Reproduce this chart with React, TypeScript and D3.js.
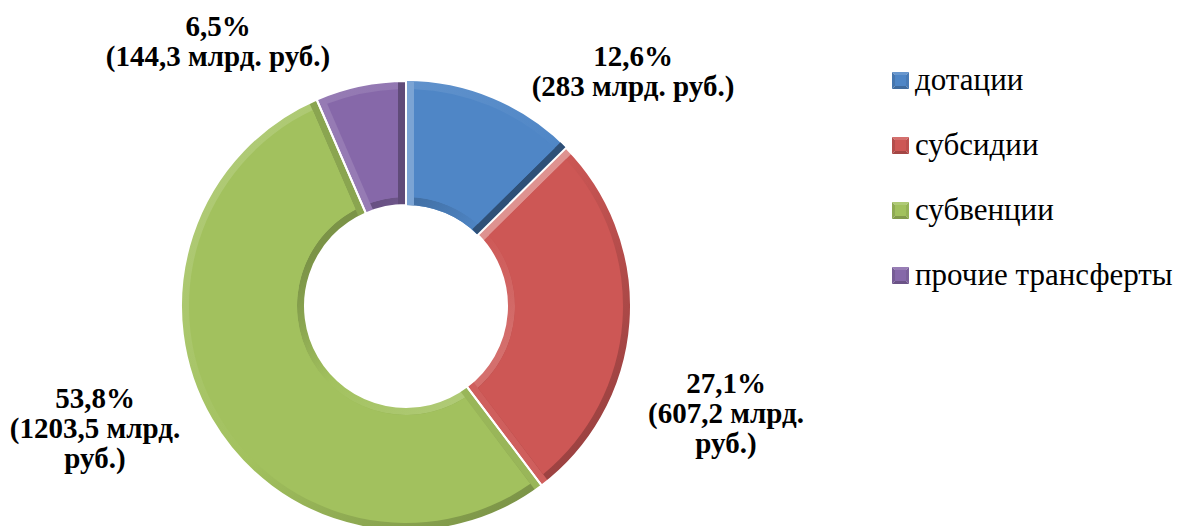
import React from 'react';
import * as d3 from 'd3';

const categories = ['дотации', 'субсидии', 'субвенции', 'прочие трансферты'];
const shares = [12.6, 27.1, 53.8, 6.5];
const amounts = ['283', '607,2', '1203,5', '144,3'];
const colors = ['#4F86C6', '#CD5755', '#A2C15E', '#8668A9'];

// label layout (offset of label centre / first baseline from donut centre)
const labelOffsets: [number, number][] = [
  [227, -240],
  [320, 87],
  [-311, 102],
  [-188, -270],
];
const labelWrap = [false, true, true, false];

const W = 1184;
const H = 526;
const cx = 406;
const cy = 306;
const rOuter = 225;
const rInner = 101;
const bevel = 8;
const lineH = 30;

const light = [-Math.SQRT1_2, -Math.SQRT1_2];

function shade(c: string, k: number) {
  return k >= 0 ? d3.interpolateRgb(c, '#ffffff')(k * 0.35) : d3.interpolateRgb(c, '#000000')(-k * 0.4);
}

const font = 'Liberation Serif, Times New Roman, Tinos, DejaVu Serif, serif';

function App() {
  const pie = d3.pie<number>().sort(null).value((d) => d);
  const arcs = pie(shares);
  const arc = d3.arc<d3.PieArcDatum<number>>();
  const fmt = (v: number) => String(v).replace('.', ',');

  const pt = (a: number, r: number): [number, number] => [r * Math.sin(a), -r * Math.cos(a)];

  const edgeBand = (a: number, dir: number) => {
    // dir=1 : band goes clockwise into slice; dir=-1 : counterclockwise
    const n: [number, number] = [Math.cos(a) * dir, Math.sin(a) * dir];
    const p1 = pt(a, rInner);
    const p2 = pt(a, rOuter);
    const pts = [p1, p2, [p2[0] + bevel * n[0], p2[1] + bevel * n[1]], [p1[0] + bevel * n[0], p1[1] + bevel * n[1]]];
    const k = -(n[0] * light[0] + n[1] * light[1]);
    return { d: 'M' + pts.map((p) => p.join(',')).join('L') + 'Z', k };
  };

  return (
    <svg width={W} height={H} style={{ position: 'absolute', left: 0, top: 0, background: '#fff' }}>
      <defs>
        {colors.map((c, i) => (
          <React.Fragment key={i}>
            <linearGradient id={`go${i}`} gradientUnits="userSpaceOnUse" x1={-rOuter * 0.71} y1={-rOuter * 0.71} x2={rOuter * 0.71} y2={rOuter * 0.71}>
              <stop offset="0" stopColor={shade(c, 0.4)} />
              <stop offset="0.5" stopColor={c} />
              <stop offset="1" stopColor={shade(c, -0.6)} />
            </linearGradient>
            <linearGradient id={`gi${i}`} gradientUnits="userSpaceOnUse" x1={-rInner * 0.71} y1={-rInner * 0.71} x2={rInner * 0.71} y2={rInner * 0.71}>
              <stop offset="0" stopColor={shade(c, -0.6)} />
              <stop offset="0.5" stopColor={c} />
              <stop offset="1" stopColor={shade(c, 0.4)} />
            </linearGradient>
          </React.Fragment>
        ))}
      </defs>
      <g transform={`translate(${cx},${cy})`}>
        {arcs.map((a, i) => {
          const s = edgeBand(a.startAngle, 1);
          const e = edgeBand(a.endAngle, -1);
          return (
            <g key={i}>
              <path d={arc.innerRadius(rInner).outerRadius(rOuter)(a) || ''} fill={`url(#go${i})`} />
              <path d={arc.innerRadius(rInner).outerRadius(rInner + bevel)(a) || ''} fill={`url(#gi${i})`} />
              <path d={s.d} fill={shade(colors[i], s.k)} />
              <path d={e.d} fill={shade(colors[i], e.k)} />
              <path
                d={
                  d3
                    .arc<d3.PieArcDatum<number>>()
                    .innerRadius(rInner + bevel)
                    .outerRadius(rOuter - bevel)
                    .padRadius(rOuter)
                    .padAngle((bevel * 2) / rOuter)(a) || ''
                }
                fill={colors[i]}
              />
            </g>
          );
        })}
        {arcs.map((a, i) => (
          <path
            key={'o' + i}
            d={arc.innerRadius(rInner).outerRadius(rOuter)(a) || ''}
            fill="none"
            stroke="#fff"
            strokeWidth={i === 0 ? 0 : 2}
          />
        ))}
        {arcs.map((a, i) => {
          const lines = labelWrap[i]
            ? [`${fmt(shares[i])}%`, `(${amounts[i]} млрд.`, 'руб.)']
            : [`${fmt(shares[i])}%`, `(${amounts[i]} млрд. руб.)`];
          const [dx, dy] = labelOffsets[i];
          return (
            <text key={'l' + i} x={dx} y={dy} textAnchor="middle" style={{ fontFamily: font, fontWeight: 'bold', fontSize: 29 }} fill="#000">
              {lines.map((l, j) => (
                <tspan key={j} x={dx} dy={j === 0 ? 0 : lineH}>
                  {l}
                </tspan>
              ))}
            </text>
          );
        })}
      </g>
      <g transform="translate(892,0)">
        {categories.map((c, i) => {
          const y = 72 + i * 65;
          const s = 17;
          const m = s / 2;
          const col = colors[i];
          return (
            <g key={c} transform={`translate(0,${y})`}>
              <path d={`M0,0L${s},0L${m},${m}Z`} fill={shade(col, 0.4)} />
              <path d={`M0,0L${m},${m}L0,${s}Z`} fill={shade(col, -0.3)} />
              <path d={`M${s},0L${s},${s}L${m},${m}Z`} fill={shade(col, -0.2)} />
              <path d={`M0,${s}L${m},${m}L${s},${s}Z`} fill={shade(col, -0.5)} />
              <rect x={3} y={3} width={s - 6} height={s - 6} fill={col} />
              <text x={23} y={s + 1} style={{ fontFamily: font, fontSize: 31 }} fill="#000">
                {c}
              </text>
            </g>
          );
        })}
      </g>
    </svg>
  );
}

export default App;
